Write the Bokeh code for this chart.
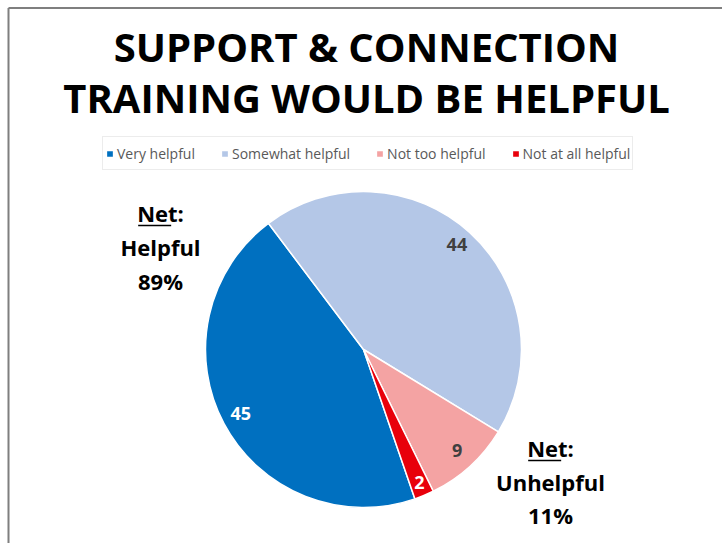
import math
from bokeh.plotting import figure
from bokeh.models import Range1d, Legend, LegendItem, ColumnDataSource
from bokeh.embed import file_html
from bokeh.resources import INLINE
from bokeh.core.properties import value

# ---- data ----
title_lines = ["SUPPORT & CONNECTION", "TRAINING WOULD BE HELPFUL"]
categories = ["Very helpful", "Somewhat helpful", "Not too helpful", "Not at all helpful"]
values = [45, 44, 9, 2]
colors = ["#0070C0", "#B4C7E7", "#F4A3A3", "#E8000B"]
label_colors = ["#FFFFFF", "#404040", "#404040", "#FFFFFF"]
net_helpful = ["Net:", "Helpful", "89%"]
net_unhelpful = ["Net:", "Unhelpful", "11%"]

FONT = value("Open Sans")
W, H = 722, 543
SHIFT = 0.45  # em offset correction for baseline placement

p = figure(width=W, height=H, x_range=Range1d(0, W), y_range=Range1d(0, H),
           output_backend="svg", toolbar_location=None, min_border=0,
           x_axis_type=None, y_axis_type=None)
p.grid.visible = False
p.outline_line_color = None
p.background_fill_color = "white"
p.border_fill_color = "white"

# frame lines (top and left)
p.segment(x0=[8, 8], y0=[H - 7.5, H - 7.5], x1=[W, 8], y1=[H - 7.5, 0],
          line_color="#7F7F7F", line_width=2)

# title
TFS = 40
p.text(x=[366, 366], y=[H - (b - SHIFT * TFS) for b in (64, 115)], text=title_lines,
       text_font=FONT, text_font_style="bold", text_font_size=f"{TFS}px",
       text_align="center", text_baseline="alphabetic", text_color="#000000")

# pie
cx, cy, R = 363, H - 349, 158
start_deg = 161  # clockwise from 12 o'clock
total = float(sum(values))
starts, ends, mids = [], [], []
acc = start_deg
for v in values:
    a0 = acc
    a1 = acc + v / total * 360.0
    starts.append(math.radians(90 - a0))
    ends.append(math.radians(90 - a1))
    mids.append(math.radians(90 - (a0 + a1) / 2))
    acc = a1

src = ColumnDataSource(dict(cat=categories, val=values, color=colors,
                            start=starts, end=ends))
r = p.wedge(x=cx, y=cy, radius=R, start_angle="start", end_angle="end",
            direction="clock", fill_color="color", line_color="white",
            line_width=1.5, source=src)

# data labels
LFS = 18
lx, ly, lt = [], [], []
for v, m in zip(values, mids):
    f = 0.88 if v >= 5 else 0.92
    lx.append(cx + f * R * math.cos(m))
    ly.append(cy + f * R * math.sin(m) - 6.5 + SHIFT * LFS)
    lt.append(str(v))
p.text(x=lx, y=ly, text=lt, text_color=label_colors, text_font=FONT,
       text_font_style="bold", text_font_size=f"{LFS}px", text_align="center",
       text_baseline="alphabetic")

# legend
legend = Legend(items=[LegendItem(label=value(c), renderers=[r], index=i)
                       for i, c in enumerate(categories)],
                orientation="horizontal", location=(102, H - 170),
                glyph_width=9, glyph_height=9, label_standoff=3, spacing=25,
                padding=2, label_height=28, margin=0,
                label_text_font="Open Sans", label_text_font_size="14px",
                label_text_color="#595959", border_line_color="#D9D9D9",
                border_line_width=1, background_fill_color="white",
                background_fill_alpha=1.0)
p.add_layout(legend, "center")

# net annotations
NFS = 22
def net_block(x, baselines, lines):
    p.text(x=[x] * len(lines), y=[H - (b - SHIFT * NFS) for b in baselines], text=lines,
           text_font=FONT, text_font_style="bold", text_font_size=f"{NFS}px",
           text_align="center", text_baseline="alphabetic", text_color="#000000")
    net_w = 1.5 * NFS
    tot_w = 2.03 * NFS
    x0 = x - tot_w / 2
    p.segment(x0=[x0], y0=[H - baselines[0] - 3], x1=[x0 + net_w],
              y1=[H - baselines[0] - 3], line_color="#000000", line_width=1.5)

net_block(160, [222, 256, 290], net_helpful)
net_block(550, [457, 491, 524], net_unhelpful)

open("out.html", "w").write(file_html(p, INLINE))
